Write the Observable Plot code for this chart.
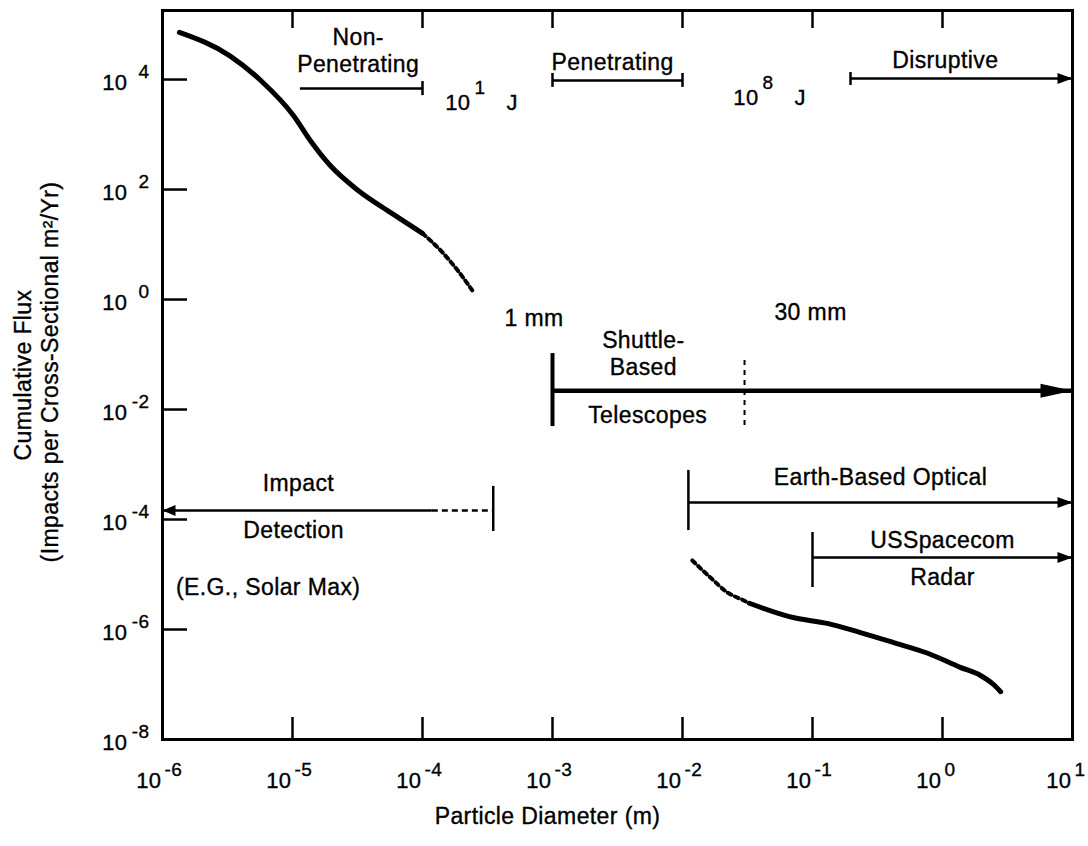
<!DOCTYPE html>
<html><head><meta charset="utf-8">
<script src="https://cdn.jsdelivr.net/npm/d3@7"></script>
<script src="https://cdn.jsdelivr.net/npm/@observablehq/plot@0.6"></script>
<style>
html,body{margin:0;padding:0;background:#fff;}
#chart svg text{letter-spacing:0.4px;stroke:#000;stroke-width:0.35px;}
</style></head><body><div id="chart"></div>
<script>
// ---- axes ----
const xTickValues = [1e-6, 1e-5, 1e-4, 1e-3, 1e-2, 1e-1, 1e0, 1e1];
const xTickExponents = ["-6", "-5", "-4", "-3", "-2", "-1", "0", "1"];
const yTickValues = [1e-8, 1e-6, 1e-4, 1e-2, 1e0, 1e2, 1e4];
const yTickExponents = ["-8", "-6", "-4", "-2", "0", "2", "4"];
const xInnerTicks = [1e-5, 1e-4, 1e-3, 1e-2, 1e-1, 1e0];
const yInnerTicks = [1e-6, 1e-4, 1e-2, 1e0, 1e2, 1e4];
const xTitle = "Particle Diameter (m)";
const yTitle1 = "Cumulative Flux";
const yTitle2 = "(Impacts per Cross-Sectional m²/Yr)";

// ---- flux curve (diameter m, cumulative flux) ----
const smallDiam = [1.35e-6, 3.3e-6, 5.7e-6, 1.02e-5, 1.37e-5, 1.96e-5, 3.2e-5, 5.7e-5, 1.0e-4];
const smallFlux = [7.2e4, 2.7e4, 9.6e3, 2.2e3, 7.8e2, 2.7e2, 96, 38, 16];
const smallDiamDotted = [1.0e-4, 1.4e-4, 1.9e-4, 2.5e-4];
const smallFluxDotted = [16, 7.5, 3.2, 1.3];
const largeDiamDotted = [1.19e-2, 1.64e-2, 2.22e-2, 2.94e-2, 3.27e-2];
const largeFluxDotted = [1.8e-5, 8.8e-6, 4.7e-6, 3.4e-6, 3.0e-6];
const largeDiam = [3.27e-2, 7.1e-2, 0.13, 0.234, 0.42, 0.77, 1.37, 1.96, 2.47, 2.8];
const largeFlux = [3.0e-6, 1.65e-6, 1.29e-6, 8.8e-7, 5.8e-7, 3.7e-7, 2.05e-7, 1.46e-7, 1.0e-7, 7.4e-8];

// ---- regime / detection ranges ----
const ranges = [
  {name: "nonpen", from: 1.15e-5, to: 1e-4, level: 6.9e3},
  {name: "pen", from: 1e-3, to: 1e-2, level: 9.6e3},
  {name: "disrupt", from: 0.196, to: 10, level: 1.04e4},
  {name: "shuttle", from: 1e-3, to: 10, level: 2.2e-2},
  {name: "impact", from: 1e-6, to: 1.19e-4, level: 1.46e-4},
  {name: "impactExt", from: 1.19e-4, to: 3.5e-4, level: 1.46e-4},
  {name: "earth", from: 0.0111, to: 10, level: 2.04e-4},
  {name: "radar", from: 0.1, to: 10, level: 2.04e-5}
];
const rangeEnds = [
  {name: "nonpen", at: 1e-4, lo: 5.1e3, hi: 9.2e3},
  {name: "pen", at: 1e-3, lo: 7.2e3, hi: 1.29e4},
  {name: "pen", at: 1e-2, lo: 7.2e3, hi: 1.29e4},
  {name: "disrupt", at: 0.196, lo: 7.8e3, hi: 1.34e4},
  {name: "impact", at: 3.5e-4, lo: 6.05e-5, hi: 4.0e-4},
  {name: "earth", at: 0.0111, lo: 6.3e-5, hi: 7.8e-4},
  {name: "radar", at: 0.1, lo: 5.8e-6, hi: 5.8e-5}
];
const shuttleStart = [{at: 1e-3, lo: 4.9e-3, hi: 0.104}];
const shuttleLimit = [{at: 0.03, lo: 5.1e-3, hi: 0.095}];
const arrowRight = [
  {name: "disrupt", at: 10, level: 1.04e4},
  {name: "earth", at: 10, level: 2.04e-4},
  {name: "radar", at: 10, level: 2.04e-5}
];
const arrowRightBig = [{name: "shuttle", at: 10, level: 2.2e-2}];
const arrowLeft = [{name: "impact", at: 1e-6, level: 1.46e-4}];

// ---- annotation texts ----
const labels = [
  {text: "Non-", x: 3.2e-5, y: 5.8e4},
  {text: "Penetrating", x: 3.2e-5, y: 1.87e4},
  {text: "Penetrating", x: 2.9e-3, y: 2.04e4},
  {text: "Disruptive", x: 1.05, y: 2.2e4},
  {text: "1 mm", x: 7.2e-4, y: 0.45},
  {text: "30 mm", x: 0.0966, y: 0.58},
  {text: "Shuttle-", x: 5.0e-3, y: 0.18},
  {text: "Based", x: 5.0e-3, y: 0.058},
  {text: "Telescopes", x: 5.4e-3, y: 7.8e-3},
  {text: "Impact", x: 1.11e-5, y: 4.5e-4},
  {text: "Detection", x: 1.02e-5, y: 6.3e-5},
  {text: "(E.G., Solar Max)", x: 6.5e-6, y: 5.8e-6},
  {text: "Earth-Based Optical", x: 0.333, y: 5.8e-4},
  {text: "USSpacecom", x: 1.0, y: 4.15e-5},
  {text: "Radar", x: 1.0, y: 8.8e-6}
];
const energies = [
  {exp: "1", x: 2.34e-4, y: 3.7e3},
  {exp: "8", x: 3.85e-2, y: 4.7e3}
];

// ---- build ----
const W = 1088, H = 846, ML = 162, MR = 16, MT = 10, MB = 107;
const innerW = W - ML - MR, innerH = H - MT - MB;
const pts = (xs, ys) => xs.map((x, i) => ({x, y: ys[i]}));
function head(dir, len, half) {
  return {draw(ctx) { ctx.moveTo(0, 0); ctx.lineTo(-dir * len, -half); ctx.lineTo(-dir * len, half); ctx.closePath(); }};
}
const thin = ranges.filter(d => !["shuttle", "impactExt"].includes(d.name));

const chart = Plot.plot({
  width: W, height: H,
  marginLeft: ML, marginRight: MR, marginTop: MT, marginBottom: MB,
  x: {type: "log", domain: [1e-6, 1e1], axis: null},
  y: {type: "log", domain: [1e-8, 1.8e5], axis: null},
  style: {fontFamily: "'Liberation Sans', Arial, Helvetica, sans-serif", fontSize: "23px", background: "white", color: "black"},
  marks: [
    Plot.frame({stroke: "black", strokeWidth: 3}),
    // inner ticks
    Plot.ruleX(xInnerTicks, {x: d => d, insetTop: innerH - 22, stroke: "black", strokeWidth: 2.5}),
    Plot.ruleX(xInnerTicks, {x: d => d, insetBottom: innerH - 18, stroke: "black", strokeWidth: 2.5}),
    Plot.ruleY(yInnerTicks, {y: d => d, insetRight: innerW - 25, stroke: "black", strokeWidth: 2.5}),
    // tick labels
    Plot.text(xTickValues, {x: d => d, text: () => "10", frameAnchor: "bottom", lineAnchor: "middle", textAnchor: "end", dx: -1, dy: 41, fontSize: 22}),
    Plot.text(xTickValues, {x: d => d, text: (d, i) => xTickExponents[i], frameAnchor: "bottom", lineAnchor: "middle", textAnchor: "start", dx: 2, dy: 30, fontSize: 19}),
    Plot.text(yTickValues, {y: d => d, text: () => "10", frameAnchor: "left", lineAnchor: "middle", textAnchor: "end", dx: -35, dy: 3, fontSize: 22}),
    Plot.text(yTickValues, {y: d => d, text: (d, i) => yTickExponents[i], frameAnchor: "left", lineAnchor: "middle", textAnchor: "end", dx: -13, dy: -8, fontSize: 19}),
    // axis titles
    Plot.text([xTitle], {frameAnchor: "bottom", lineAnchor: "middle", textAnchor: "middle", text: d => d, dx: -70, dy: 77, fontSize: 23}),
    Plot.text([yTitle1], {frameAnchor: "left", lineAnchor: "middle", textAnchor: "middle", text: d => d, rotate: -90, dx: -139, fontSize: 23}),
    Plot.text([yTitle2], {frameAnchor: "left", lineAnchor: "middle", textAnchor: "middle", text: d => d, rotate: -90, dx: -112, dy: -3, fontSize: 23}),
    // flux curve
    Plot.line(pts(smallDiam, smallFlux), {x: "x", y: "y", curve: "monotone-x", stroke: "black", strokeWidth: 5, strokeLinecap: "round"}),
    Plot.line(pts(smallDiamDotted, smallFluxDotted), {x: "x", y: "y", curve: "monotone-x", stroke: "black", strokeWidth: 4, strokeDasharray: "4,4"}),
    Plot.line(pts(largeDiamDotted, largeFluxDotted), {x: "x", y: "y", curve: "monotone-x", stroke: "black", strokeWidth: 4, strokeDasharray: "4,4"}),
    Plot.line(pts(largeDiam, largeFlux), {x: "x", y: "y", curve: "monotone-x", stroke: "black", strokeWidth: 5, strokeLinecap: "round"}),
    // ranges
    Plot.ruleY(thin, {x1: "from", x2: "to", y: "level", stroke: "black", strokeWidth: 2.5}),
    Plot.ruleY(ranges.filter(d => d.name === "impactExt"), {x1: "from", x2: "to", y: "level", stroke: "black", strokeWidth: 2.5, strokeDasharray: "6,4"}),
    Plot.ruleY(ranges.filter(d => d.name === "shuttle"), {x1: "from", x2: "to", y: "level", stroke: "black", strokeWidth: 4.5}),
    Plot.ruleX(rangeEnds, {x: "at", y1: "lo", y2: "hi", stroke: "black", strokeWidth: 2.5}),
    Plot.ruleX(shuttleStart, {x: "at", y1: "lo", y2: "hi", stroke: "black", strokeWidth: 4}),
    Plot.ruleX(shuttleLimit, {x: "at", y1: "lo", y2: "hi", stroke: "black", strokeWidth: 2, strokeDasharray: "5,5"}),
    Plot.dot(arrowRight, {x: "at", y: "level", symbol: head(1, 15, 5.5), r: 5, fill: "black", stroke: "none"}),
    Plot.dot(arrowRightBig, {x: "at", y: "level", symbol: head(1, 32, 7), r: 5, fill: "black", stroke: "none"}),
    Plot.dot(arrowLeft, {x: "at", y: "level", symbol: head(-1, 13, 5.5), r: 5, fill: "black", stroke: "none"}),
    // labels
    Plot.text(labels, {x: "x", y: "y", text: "text", fontSize: 23}),
    Plot.text(energies, {x: "x", y: "y", text: () => "10", textAnchor: "end", fontSize: 22}),
    Plot.text(energies, {x: "x", y: "y", text: "exp", textAnchor: "start", dx: 4, dy: -15, fontSize: 19}),
    Plot.text(energies, {x: "x", y: "y", text: () => "J", textAnchor: "start", dx: 36, fontSize: 22})
  ]
});
document.getElementById("chart").appendChild(chart);
</script></body></html>
